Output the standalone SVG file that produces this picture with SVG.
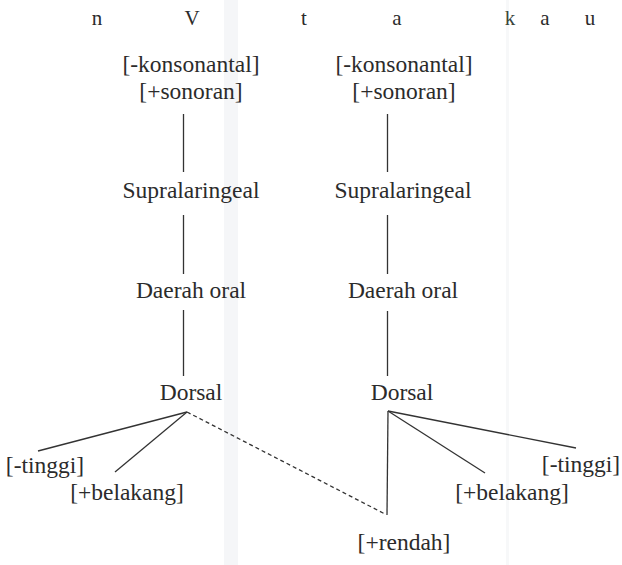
<svg xmlns="http://www.w3.org/2000/svg" width="622" height="565" viewBox="0 0 622 565">
  <style>
    .lbl { font-family: 'Liberation Serif', 'Times New Roman', serif; font-size: 23.5px; fill: #2b2b2b; text-anchor: middle; }
    .seg { font-size: 21px; }
    .edge { stroke: #333; stroke-width: 1.3; fill: none; }
    .dash { stroke-dasharray: 4 3; }
  </style>
  <rect width="622" height="565" fill="#ffffff"/>
  <!-- faint paper bands -->
  <rect x="224" y="0" width="14" height="565" fill="#f5f6f8"/>
  <rect x="506" y="0" width="3" height="565" fill="#f7f8f9"/>

  <!-- segment tier -->
  <g id="segments">
    <text class="lbl seg" x="97" y="25">n</text>
    <text class="lbl seg" x="192" y="25">V</text>
    <text class="lbl seg" x="304" y="25">t</text>
    <text class="lbl seg" x="397" y="25">a</text>
    <text class="lbl seg" x="510" y="25" style="fill:#3a463c">k</text>
    <text class="lbl seg" x="545" y="25">a</text>
    <text class="lbl seg" x="590" y="25">u</text>
  </g>

  <!-- left column (V) -->
  <g id="root-left">
    <text class="lbl" x="191" y="72">[-konsonantal]</text>
    <text class="lbl" x="191" y="99">[+sonoran]</text>
  </g>
  <g id="supra-left"><text class="lbl" x="191" y="198">Supralaringeal</text></g>
  <g id="oral-left"><text class="lbl" x="191" y="298">Daerah oral</text></g>
  <g id="dorsal-left"><text class="lbl" x="191" y="400">Dorsal</text></g>
  <g id="tinggi-left"><text class="lbl" x="45" y="473">[-tinggi]</text></g>
  <g id="belakang-left"><text class="lbl" x="127" y="500">[+belakang]</text></g>

  <!-- right column (a) -->
  <g id="root-right">
    <text class="lbl" x="404" y="72">[-konsonantal]</text>
    <text class="lbl" x="404" y="99">[+sonoran]</text>
  </g>
  <g id="supra-right"><text class="lbl" x="403" y="198">Supralaringeal</text></g>
  <g id="oral-right"><text class="lbl" x="403" y="298">Daerah oral</text></g>
  <g id="dorsal-right"><text class="lbl" x="402" y="400">Dorsal</text></g>
  <g id="tinggi-right"><text class="lbl" x="581" y="472">[-tinggi]</text></g>
  <g id="belakang-right"><text class="lbl" x="512" y="500">[+belakang]</text></g>
  <g id="rendah"><text class="lbl" x="404" y="550">[+rendah]</text></g>

  <!-- association lines -->
  <g id="connectors">
    <line class="edge" x1="183.5" y1="114" x2="183.5" y2="172"/>
    <line class="edge" x1="183.5" y1="215" x2="183.5" y2="274"/>
    <line class="edge" x1="183.5" y1="310" x2="183.5" y2="376"/>
    <line class="edge" x1="187" y1="412" x2="38" y2="451"/>
    <line class="edge" x1="187" y1="412" x2="115" y2="472"/>
    <line class="edge dash" x1="187" y1="412" x2="385" y2="514"/>

    <line class="edge" x1="387.5" y1="114" x2="387.5" y2="172"/>
    <line class="edge" x1="387.5" y1="215" x2="387.5" y2="274"/>
    <line class="edge" x1="387.5" y1="311" x2="387.5" y2="376"/>
    <line class="edge" x1="388" y1="411" x2="387" y2="515"/>
    <line class="edge" x1="388" y1="411" x2="576" y2="448"/>
    <line class="edge" x1="388" y1="411" x2="485" y2="473"/>
  </g>
</svg>
